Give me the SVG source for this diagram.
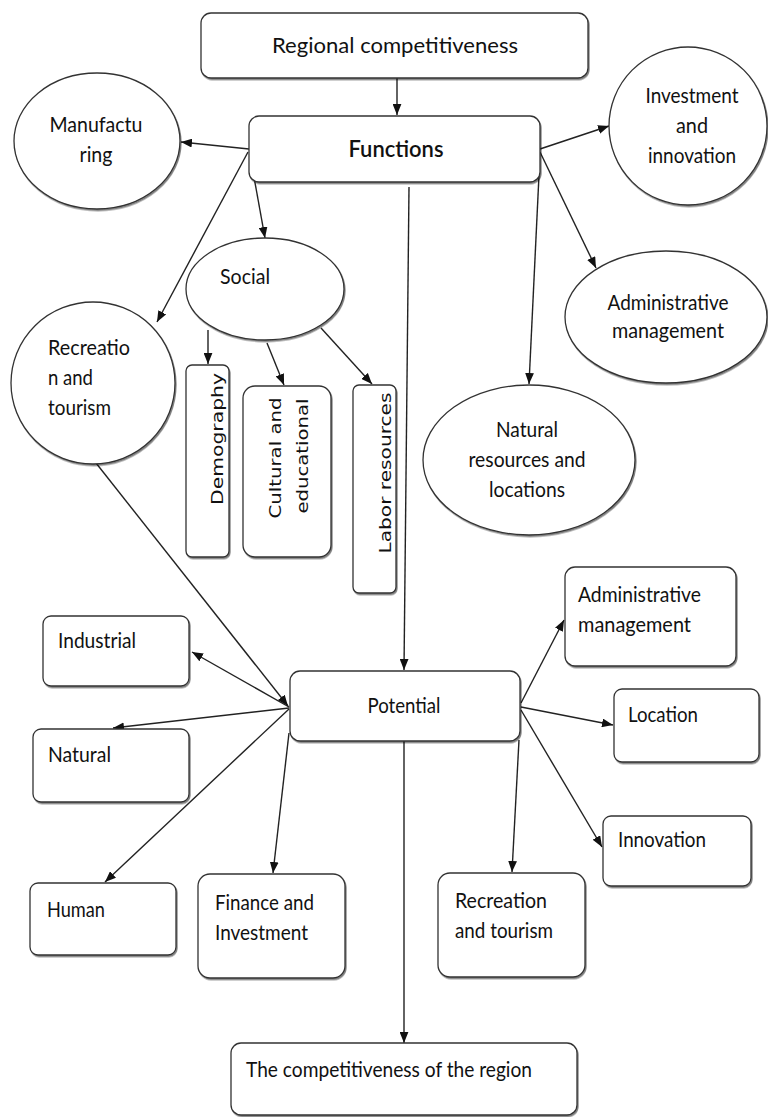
<svg xmlns="http://www.w3.org/2000/svg" width="768" height="1117" viewBox="0 0 768 1117">
<style>
.n{fill:#fff;stroke:#333;stroke-width:1.3;filter:url(#sh)}
.t{font-family:Lato,"Open Sans","Liberation Sans",sans-serif;font-size:22px;fill:#111}
.tc{text-anchor:middle}
.v{font-family:"DejaVu Sans",Verdana,sans-serif;font-size:16px;fill:#111;text-anchor:middle}
.c{stroke:#222;stroke-width:1.4;fill:none;marker-end:url(#ah)}
</style>
<defs>
<filter id="sh" x="-5%" y="-5%" width="112%" height="115%">
<feDropShadow dx="1" dy="1.5" stdDeviation="0.5" flood-color="#000" flood-opacity="0.5"/>
</filter>
<marker id="ah" viewBox="0 0 10 8" refX="10" refY="4" markerWidth="11" markerHeight="9" markerUnits="userSpaceOnUse" orient="auto">
<path d="M0,0 L10,4 L0,8 z" fill="#111"/>
</marker>
</defs>

<g id="connectors">
<line class="c" x1="397" y1="78" x2="397" y2="115"/>
<line class="c" x1="249" y1="149" x2="181" y2="142"/>
<line class="c" x1="250" y1="155" x2="265" y2="238"/>
<line class="c" x1="248" y1="152" x2="157" y2="322"/>
<line class="c" x1="409" y1="187" x2="404" y2="670"/>
<line class="c" x1="539" y1="175" x2="529" y2="384"/>
<line class="c" x1="540" y1="149" x2="609" y2="126"/>
<line class="c" x1="540" y1="152" x2="596" y2="268"/>
<line class="c" x1="208" y1="330" x2="208" y2="364"/>
<line class="c" x1="267" y1="343" x2="284" y2="385"/>
<line class="c" x1="321" y1="328" x2="372" y2="384"/>
<line class="c" x1="96" y1="463" x2="288" y2="706"/>
<line class="c" x1="289" y1="707" x2="192" y2="652"/>
<line class="c" x1="289" y1="708" x2="113" y2="728"/>
<line class="c" x1="289" y1="709" x2="105" y2="882"/>
<line class="c" x1="289" y1="733" x2="273" y2="873"/>
<line class="c" x1="521" y1="703" x2="564" y2="620"/>
<line class="c" x1="521" y1="707" x2="613" y2="725"/>
<line class="c" x1="521" y1="710" x2="602" y2="847"/>
<line class="c" x1="519" y1="740" x2="512" y2="872"/>
<line class="c" x1="404" y1="741" x2="404" y2="1043"/>
</g>

<g id="regional">
<rect class="n" x="201" y="13" width="387" height="65" rx="10"/>
<text class="t tc" x="395" y="53" font-size="25" textLength="246" lengthAdjust="spacingAndGlyphs">Regional competitiveness</text>
</g>
<g id="functions">
<rect class="n" x="249" y="116" width="291" height="66" rx="10"/>
<text class="t tc" x="396" y="157" font-size="26" font-weight="600" textLength="95" lengthAdjust="spacingAndGlyphs">Functions</text>
</g>
<g id="manufacturing">
<ellipse class="n" cx="97" cy="141" rx="83" ry="68"/>
<text class="t tc" x="96" y="132" textLength="93" lengthAdjust="spacingAndGlyphs">Manufactu</text>
<text class="t tc" x="96" y="162" textLength="33" lengthAdjust="spacingAndGlyphs">ring</text>
</g>
<g id="investment">
<ellipse class="n" cx="688" cy="126" rx="79" ry="79"/>
<text class="t tc" x="692" y="103" textLength="93" lengthAdjust="spacingAndGlyphs">Investment</text>
<text class="t tc" x="692" y="133" textLength="32" lengthAdjust="spacingAndGlyphs">and</text>
<text class="t tc" x="692" y="163" textLength="88" lengthAdjust="spacingAndGlyphs">innovation</text>
</g>
<g id="social">
<ellipse class="n" cx="265" cy="289" rx="79" ry="51"/>
<text class="t" x="220" y="284" textLength="50" lengthAdjust="spacingAndGlyphs">Social</text>
</g>
<g id="recreation-circle">
<ellipse class="n" cx="93" cy="383" rx="82" ry="81"/>
<text class="t" x="48" y="355" textLength="82" lengthAdjust="spacingAndGlyphs">Recreatio</text>
<text class="t" x="48" y="385" textLength="45" lengthAdjust="spacingAndGlyphs">n and</text>
<text class="t" x="48" y="415" textLength="63" lengthAdjust="spacingAndGlyphs">tourism</text>
</g>
<g id="admin-circle">
<ellipse class="n" cx="666" cy="317" rx="101" ry="66"/>
<text class="t tc" x="668" y="310" textLength="121" lengthAdjust="spacingAndGlyphs">Administrative</text>
<text class="t tc" x="668" y="338" textLength="112" lengthAdjust="spacingAndGlyphs">management</text>
</g>
<g id="natural-resources">
<ellipse class="n" cx="529" cy="460" rx="106" ry="75"/>
<text class="t tc" x="527" y="437" textLength="62" lengthAdjust="spacingAndGlyphs">Natural</text>
<text class="t tc" x="527" y="467" textLength="117" lengthAdjust="spacingAndGlyphs">resources and</text>
<text class="t tc" x="527" y="497" textLength="76" lengthAdjust="spacingAndGlyphs">locations</text>
</g>
<g id="demography">
<rect class="n" x="186" y="365" width="43" height="192" rx="6"/>
<text class="v" transform="translate(223,439) rotate(-90)" textLength="132" lengthAdjust="spacingAndGlyphs">Demography</text>
</g>
<g id="cultural">
<rect class="n" x="243" y="386" width="88" height="171" rx="12"/>
<text class="v" transform="translate(281,458) rotate(-90)" textLength="121" lengthAdjust="spacingAndGlyphs">Cultural and</text>
<text class="v" transform="translate(308,456) rotate(-90)" textLength="115" lengthAdjust="spacingAndGlyphs">educational</text>
</g>
<g id="labor">
<rect class="n" x="353" y="385" width="43" height="208" rx="6"/>
<text class="v" transform="translate(391,473) rotate(-90)" textLength="161" lengthAdjust="spacingAndGlyphs">Labor resources</text>
</g>
<g id="admin-box">
<rect class="n" x="565" y="567" width="171" height="99" rx="10"/>
<text class="t" x="578" y="602" textLength="123" lengthAdjust="spacingAndGlyphs">Administrative</text>
<text class="t" x="578" y="632" textLength="113" lengthAdjust="spacingAndGlyphs">management</text>
</g>
<g id="potential">
<rect class="n" x="290" y="671" width="230" height="70" rx="10"/>
<text class="t tc" x="404" y="713" textLength="73" lengthAdjust="spacingAndGlyphs">Potential</text>
</g>
<g id="industrial">
<rect class="n" x="43" y="616" width="146" height="70" rx="8"/>
<text class="t" x="58" y="648" textLength="78" lengthAdjust="spacingAndGlyphs">Industrial</text>
</g>
<g id="natural">
<rect class="n" x="33" y="729" width="156" height="73" rx="8"/>
<text class="t" x="48" y="762" textLength="63" lengthAdjust="spacingAndGlyphs">Natural</text>
</g>
<g id="location">
<rect class="n" x="614" y="689" width="145" height="73" rx="8"/>
<text class="t" x="628" y="722" textLength="70" lengthAdjust="spacingAndGlyphs">Location</text>
</g>
<g id="innovation">
<rect class="n" x="603" y="816" width="148" height="70" rx="8"/>
<text class="t" x="618" y="847" textLength="88" lengthAdjust="spacingAndGlyphs">Innovation</text>
</g>
<g id="human">
<rect class="n" x="30" y="883" width="146" height="72" rx="8"/>
<text class="t" x="47" y="917" textLength="58" lengthAdjust="spacingAndGlyphs">Human</text>
</g>
<g id="finance">
<rect class="n" x="198" y="874" width="147" height="104" rx="12"/>
<text class="t" x="215" y="910" textLength="99" lengthAdjust="spacingAndGlyphs">Finance and</text>
<text class="t" x="215" y="940" textLength="93" lengthAdjust="spacingAndGlyphs">Investment</text>
</g>
<g id="recreation-box">
<rect class="n" x="438" y="873" width="147" height="104" rx="12"/>
<text class="t" x="455" y="908" textLength="92" lengthAdjust="spacingAndGlyphs">Recreation</text>
<text class="t" x="455" y="938" textLength="98" lengthAdjust="spacingAndGlyphs">and tourism</text>
</g>
<g id="competitiveness">
<rect class="n" x="231" y="1043" width="346" height="72" rx="10"/>
<text class="t" x="246" y="1077" textLength="286" lengthAdjust="spacingAndGlyphs">The competitiveness of the region</text>
</g>
</svg>
